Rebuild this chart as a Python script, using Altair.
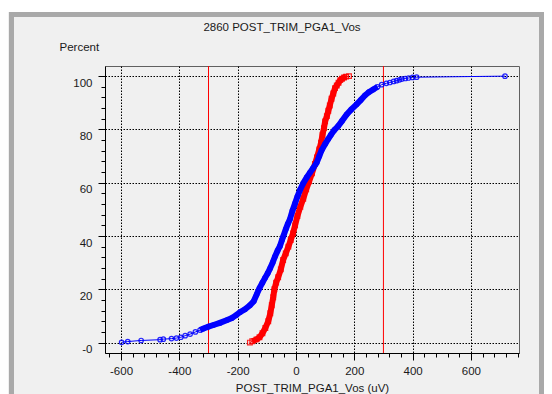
import altair as alt
import pandas as pd

TITLE = "2860 POST_TRIM_PGA1_Vos"
X_TITLE = "POST_TRIM_PGA1_Vos (uV)"
Y_TITLE = "Percent"

RED_X = [-158, -150, -135, -125, -115, -105, -95, -88, -83, -78, -74, -68, -61, -52,
         -44, -35, -26, -18, -10, -3, 5, 15, 25, 35, 45, 55, 65, 72, 80, 86, 91, 96,
         100, 106, 111, 116, 122, 128, 134, 140, 146, 152, 158, 165, 172, 182]
RED_PCT = [0.0, 0.5, 1.2, 2.0, 3.5, 5.5, 8.0, 11.0, 14.0, 17.0, 20.0, 22.5, 24.5, 27.5,
           31.0, 33.5, 36.0, 38.5, 41.0, 44.0, 47.5, 51.0, 54.0, 57.5, 60.5, 63.5, 67.0,
           69.5, 72.5, 75.0, 78.0, 80.5, 83.0, 85.0, 87.0, 89.0, 91.5, 93.5, 95.5, 96.5,
           97.5, 98.5, 99.0, 99.5, 99.8, 100.0]

BLUE_X = [-598, -577, -531, -466, -455, -427, -410, -395, -380, -363, -345, -329, -317,
          -300, -283, -261, -238, -220, -205, -192, -175, -158, -145, -135, -125, -115,
          -106, -97, -89, -80, -72, -63, -55, -48, -43, -35, -28, -21, -12, -3, 5, 14,
          25, 37, 48, 59, 71, 80, 88, 100, 110, 120, 132, 145, 158, 174, 190, 208, 222,
          237, 250, 265, 280, 294, 310, 322, 335, 345, 355, 363, 375, 386, 400, 414,
          717]
BLUE_PCT = [0.1, 0.4, 0.8, 1.1, 1.3, 1.5, 1.7, 2.0, 2.6, 3.2, 4.0, 4.7, 5.3, 6.0, 6.6,
            7.4, 8.4, 9.2, 10.3, 11.4, 12.5, 14.0, 15.5, 18.0, 20.5, 22.5, 24.3, 26.0,
            27.8, 30.0, 32.3, 34.5, 36.2, 38.5, 40.0, 42.5, 44.5, 46.2, 49.5, 52.3, 54.8,
            57.3, 59.8, 62.0, 63.8, 65.5, 67.5, 70.0, 72.2, 74.5, 76.3, 78.0, 79.8, 81.3,
            83.2, 85.6, 87.5, 89.4, 91.0, 92.8, 94.0, 95.0, 96.0, 96.8, 97.3, 97.6, 98.0,
            98.3, 98.6, 98.9, 99.1, 99.3, 99.5, 99.6, 100.0]

SPEC_LIMITS = [-300, 300]
X_TICKS = list(range(-640, 761, 40))
Y_TICKS = list(range(0, 101, 4))

red = pd.DataFrame({"x": RED_X, "pct": RED_PCT})
blue = pd.DataFrame({"x": BLUE_X, "pct": BLUE_PCT})
limits = pd.DataFrame({"x": SPEC_LIMITS})

FONT = "Liberation Sans"
FS = 11.5
TXT = "#1a1a1a"

xscale = alt.Scale(domain=[-655, 765], nice=False, zero=False)
yscale = alt.Scale(domain=[-3.9, 103.8], nice=False, zero=False)

xaxis = alt.Axis(
    values=X_TICKS, title=X_TITLE,
    labelExpr="datum.value % 200 === 0 ? '' + datum.value : ''",
    tickSize={"condition": {"test": "datum.value % 200 === 0", "value": 7}, "value": 4},
    gridOpacity={"condition": {"test": "datum.value % 200 === 0", "value": 1}, "value": 0},
    labelBaseline="middle", labelPadding=11, labelOverlap=False, labelFlush=False,
    titleY=35, titleBaseline="middle",
)
yaxis = alt.Axis(
    values=Y_TICKS, title=Y_TITLE,
    labelExpr="datum.value === 0 ? '-0' : (datum.value % 20 === 0 ? '' + datum.value : '')",
    tickSize={"condition": {"test": "datum.value % 20 === 0", "value": 7}, "value": 4},
    gridOpacity={"condition": {"test": "datum.value % 20 === 0", "value": 1}, "value": 0},
    labelBaseline="middle", labelOffset=7, labelPadding=6, labelOverlap=False, labelFlush=False,
    titleAngle=0, titleAlign="left", titleBaseline="middle", titleX=-46, titleY=-19,
)

ex = alt.X("x:Q", scale=xscale, axis=xaxis)
ey = alt.Y("pct:Q", scale=yscale, axis=yaxis)

one = alt.Data(values=[{"k": 1}])
frame = alt.Chart(one).mark_rect(fillOpacity=0, stroke="#a9a9a9", strokeWidth=5).encode(
    x=alt.value(-93.5), x2=alt.value(436.5), y=alt.value(-51.5), y2=alt.value(345))
strip = alt.Chart(one).mark_rect(fill="#ffffff").encode(
    x=alt.value(-97), x2=alt.value(439), y=alt.value(-58), y2=alt.value(-54))

rules = alt.Chart(limits).mark_rule(color="#ff0000", strokeWidth=1).encode(x=ex)


def series(df, color, shape, lo, hi, size):
    thin = alt.Chart(df).mark_line(color=color, strokeWidth=1).encode(x=ex, y=ey, order="pct:Q")
    thick = alt.Chart(df).transform_filter(
        f"datum.pct >= {lo} && datum.pct <= {hi}"
    ).mark_line(color=color, strokeWidth=6).encode(x=ex, y=ey, order="pct:Q")
    pts = alt.Chart(df).mark_point(shape=shape, filled=False, color=color, size=size,
                                   strokeWidth=1.2, opacity=0.85).encode(x=ex, y=ey)
    return [thin, thick, pts]


layers = [frame, strip, rules] + series(red, "#ff0000", "square", 0.3, 99.9, 22) + \
    series(blue, "#0000ff", "circle", 4.5, 96.5, 20)

chart = alt.layer(*layers).properties(
    width=414, height=287,
    autosize=alt.AutoSizeParams(type="none"),
    padding={"left": 97, "top": 58, "right": 25, "bottom": 41},
    background="#f0f0f0",
    title=alt.TitleParams(TITLE, font=FONT, fontSize=FS, fontWeight="normal", color=TXT,
                          anchor="middle", dx=-30, dy=29),
).configure_view(stroke="#606060", strokeWidth=1).configure_axis(
    labelFont=FONT, labelFontSize=FS, titleFont=FONT, titleFontSize=FS,
    labelColor=TXT, titleColor=TXT, titleFontWeight="normal",
    domainColor="#000000", tickColor="#000000", gridColor="#000000",
    gridDash=[1.5, 1.5], domainWidth=1, tickWidth=1,
)

chart.save("out.html", embed_options={"renderer": "svg", "actions": False})
